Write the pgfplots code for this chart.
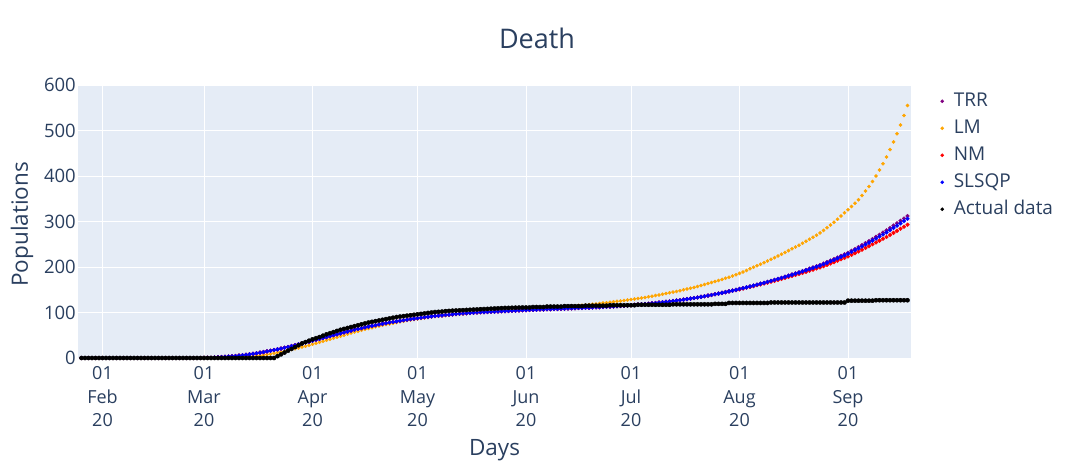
\documentclass[border=0pt]{standalone}
\usepackage{fontspec}
\setmainfont{Open Sans}
\usepackage{pgfplots}
\usepackage{pgfplotstable}
\pgfplotsset{compat=1.18}
\definecolor{plotbg}{HTML}{E5ECF6}
\definecolor{txt}{HTML}{2A3F5F}
\definecolor{ctrr}{HTML}{800080}
\definecolor{clm}{HTML}{FFA500}
\definecolor{cnm}{HTML}{FF0000}
\definecolor{cs}{HTML}{0000FF}

\pgfplotstableread{
d t l n s a
-6 0 0 0 0 0
-5 0 0 0 0 0
-4 0 0 0 0 0
-3 0 0 0 0 0
-2 0 0 0 0 0
-1 0 0 0 0 0
0 0 0 0 0 0
1 0 0 0 0 0
2 0 0 0 0 0
3 0 0 0 0 0
4 0 0 0 0 0
5 0 0 0 0 0
6 0 0 0 0 0
7 0 0 0 0 0
8 0 0 0 0 0
9 0 0 0 0 0
10 0 0 0 0 0
11 0 0 0 0 0
12 0 0 0 0 0
13 0 0 0 0 0
14 0 0 0 0 0
15 0 0 0 0 0
16 0 0 0 0 0
17 0 0 0 0 0
18 0 0 0 0 0
19 0 0 0 0 0
20 0 0 0 0 0
21 0 0 0 0 0
22 0 0 0 0 0
23 0 0 0 0 0
24 0 0 0 0 0
25 0 0 0 0 0
26 0 0 0 0 0
27 0 0 0 0 0
28 0 0 0 0 0
29 0.2 0 0.2 0.2 0
30 0.5 0 0.5 0.5 0
31 0.7 0 0.7 0.7 0
32 1 0 1 1 0
33 1.5 0 1.5 1.5 0
34 2 0.2 2 2 0
35 2.5 0.3 2.5 2.5 0
36 3 0.5 3 3 0
37 3.7 0.7 3.7 3.7 0
38 4.5 1 4.5 4.5 0
39 5.2 1.5 5.2 5.2 0
40 6 2 6 6 0
41 7 2.5 7 7 0
42 8 3 8 8 0
43 9.2 3.7 9.2 9.2 0
44 10.5 4.5 10.5 10.5 0
45 11.7 5.5 11.7 11.7 0
46 13 6.5 13 13 0
47 14.5 7.7 14.5 14.5 0
48 16 9 16 16 0
49 17.5 10.5 17.5 17.5 0
50 19 12 19 19 4
51 20.7 13.5 20.7 20.7 8
52 22.5 15 22.5 22.5 12
53 24.2 16.7 24.2 24.2 16
54 26 18.5 26 26 20
55 28 20.2 28 28 24
56 30 22 30 30 28
57 32 24 32 32 32
58 34 26 34 34 35
59 36 28 36 36 38
60 38 30 38 38 41
61 40 32.2 40 40 43.5
62 42 34.5 42 42 46
63 44 36.7 44 44 49
64 46 39 46 46 52
65 48 41.2 48 48 54.5
66 50 43.5 50 50 57
67 52 45.7 52 52 59.5
68 54 48 54 54 62
69 56 50.2 56 56 64
70 58 52.5 58 58 66
71 60 54.7 60 60 68
72 62 57 62 62 70
73 63.7 59 63.7 63.7 72
74 65.5 61 65.5 65.5 74
75 67.2 63 67.2 67.2 76
76 69 65 69 69 78
77 70.5 66.7 70.5 70.5 79.5
78 72 68.5 72 72 81
79 73.5 70.2 73.5 73.5 82.5
80 75 72 75 75 84
81 76.5 73.5 76.5 76.5 85.5
82 78 75 78 78 87
83 79.2 76.5 79.2 79.2 88.5
84 80.5 78 80.5 80.5 90
85 81.7 79.5 81.7 81.7 91
86 83 81 83 83 92
87 84.2 82.2 84.2 84.2 93
88 85.5 83.5 85.5 85.5 94
89 86.5 84.7 86.5 86.5 95
90 87.5 86 87.5 87.5 96
91 88.5 87 88.5 88.5 97
92 89.5 88 89.5 89.5 98
93 90.5 89 90.5 90.5 99
94 91.5 90 91.5 91.5 100
95 92.2 91 92.2 92.2 101
96 93 92 93 93 101.5
97 93.7 92.7 93.7 93.7 102
98 94.5 93.5 94.5 94.5 103
99 95.2 94.2 95.2 95.2 103.5
100 96 95 96 96 104
101 96.6 95.7 96.6 96.6 104.4
102 97.2 96.5 97.2 97.2 104.8
103 97.9 97.2 97.9 97.9 105.2
104 98.5 98 98.5 98.5 105.6
105 99 98.6 99 99 106
106 99.5 99.2 99.5 99.5 106.4
107 100 99.9 100 100 106.8
108 100.5 100.5 100.5 100.5 107.2
109 100.9 101 100.9 100.9 107.6
110 101.2 101.5 101.2 101.2 108
111 101.6 102 101.6 101.6 108.4
112 102 102.5 102 102 108.8
113 102.4 103 102.4 102.4 109.2
114 102.7 103.5 102.7 102.7 109.6
115 103.1 104 103.1 103.1 110
116 103.5 104.5 103.5 103.5 110.2
117 103.9 105 103.9 103.9 110.4
118 104.2 105.5 104.2 104.2 110.6
119 104.6 106 104.6 104.6 110.8
120 105 106.5 105 105 111
121 105.3 107 105.3 105.3 111
122 105.6 107.5 105.6 105.6 111
123 105.9 108 105.9 105.9 112
124 106.2 108.5 106.2 106.2 112
125 106.5 109 106.5 106.5 112
126 106.8 109.5 106.8 106.8 112
127 107.1 110 107.1 107.1 113
128 107.4 110.5 107.4 107.4 113
129 107.7 111 107.7 107.7 113
130 108 111.5 108 108 113
131 108.3 112.1 108.3 108.3 113
132 108.6 112.7 108.6 108.6 114
133 108.9 113.3 108.9 108.9 114
134 109.2 113.9 109.2 109.2 114
135 109.5 114.5 109.5 109.5 114
136 109.8 115.2 109.8 109.8 114
137 110.1 115.9 110.1 110.1 114
138 110.4 116.6 110.4 110.4 115
139 110.7 117.3 110.7 110.7 115
140 111 118 111 111 115
141 111.4 118.9 111.4 111.4 115
142 111.8 119.8 111.8 111.8 115
143 112.2 120.7 112.2 112.2 115
144 112.6 121.6 112.6 112.6 115
145 113 122.5 113 113 116
146 113.5 123.5 113.5 113.5 116
147 114 124.5 114 114 116
148 114.5 125.5 114.5 114.5 116
149 115 126.5 115 115 116
150 115.5 127.5 115.5 115.5 116
151 116.1 128.6 116.1 116.1 116
152 116.7 129.7 116.7 116.7 116
153 117.3 130.8 117.3 117.3 117
154 117.9 131.9 117.9 117.9 117
155 118.5 133 118.5 118.5 117
156 119.3 134.4 119.3 119.3 117
157 120.1 135.8 120.1 120.1 117
158 120.9 137.2 120.9 120.9 117
159 121.7 138.6 121.7 121.7 117
160 122.5 140 122.5 122.5 117
161 123.4 141.6 123.4 123.4 117
162 124.3 143.2 124.3 124.3 117
163 125.2 144.8 125.2 125.2 118
164 126.1 146.4 126.1 126.1 118
165 127 148 127 127 118
166 128.2 149.8 128.2 128.2 118
167 129.4 151.6 129.4 129.4 118
168 130.6 153.4 130.6 130.6 118
169 131.8 155.2 131.8 131.8 118
170 133 157 133 133 118
171 134.4 159.2 134.4 134.4 118
172 135.8 161.4 135.8 135.8 118
173 137.2 163.6 137.2 137.2 118
174 138.6 165.8 138.6 138.6 118
175 140 168 140 140 119
176 141.6 170.4 141.6 141.6 119
177 143.2 172.8 143.2 143.2 119
178 144.8 175.2 144.8 144.8 119
179 146.4 177.6 146.4 146.4 121
180 148 180 148 148 121
181 150.1 183 149.2 149.8 121
182 151.9 186 150.9 151.6 121
183 153.7 189.2 152.6 153.4 121
184 155.6 192.5 154.3 155.2 121
185 157.4 196 156 157 121
186 159.4 199.4 157.9 159 121
187 161.4 202.8 159.8 161 121
188 163.5 206.2 161.7 163 121
189 165.5 209.6 163.6 165 121
190 167.5 213 165.5 167 121
191 169.8 216.8 167.6 169.2 122
192 172 220.6 169.6 171.4 122
193 174.3 224.4 171.7 173.6 122
194 176.5 228.2 173.7 175.8 122
195 178.8 232 175.8 178 122
196 181.2 236 178 180.4 122
197 183.7 240 180.3 182.8 122
198 186.1 244 182.5 185.2 122
199 188.6 248 184.8 187.6 122
200 191 252 187 190 122
201 193.7 256.5 189.4 192.6 122
202 196.4 261 191.8 195.2 122
203 199.1 265.5 194.2 197.8 122
204 201.8 270 196.6 200.4 122
205 204.5 275 199 203 122
206 207.6 280.5 201.8 206 122
207 210.7 286.5 204.6 209 122
208 214.3 292.5 207.9 212.5 122
209 217.4 298.5 210.7 215.5 122
210 221 305 214 219 122
211 224.4 312 217 222.3 122
212 227.9 319 220 225.6 122
213 231.4 326 223.1 229 126
214 235.6 333 226.8 233 126
215 239.7 340 230.5 237 126
216 243.9 348 234.2 241 126
217 248 357 237.9 245 126
218 252.7 367 242.1 249.5 126
219 256.8 377 245.8 253.5 126
220 261.5 388 250 258 126
221 266.2 400 254 262.5 127
222 271 413 258 267 127
223 275.7 427 262 271.5 127
224 280.4 442 266 276 127
225 285.7 458 270.5 281 127
226 291 475 275 286 127
227 296.2 493 279.5 291 127
228 301.5 512 284 296 127
229 306.7 533 288.5 301 127
230 312 555 293 306 127
}\data

\begin{document}
\begin{tikzpicture}
\useasboundingbox (0,0) rectangle (1073pt,464pt);
\begin{axis}[
  at={(78pt,106pt)}, anchor=south west,
  width=833pt, height=273pt, scale only axis,
  xmin=-7, xmax=231, ymin=0, ymax=600,
  axis background/.style={fill=plotbg},
  axis line style={draw=none},
  major tick length=0pt,
  grid=major, major grid style={white, line width=1pt},
  xtick={0,29,60,90,121,151,182,213},
  xticklabels={{01\\Feb\\20},{01\\Mar\\20},{01\\Apr\\20},{01\\May\\20},{01\\Jun\\20},{01\\Jul\\20},{01\\Aug\\20},{01\\Sep\\20}},
  xticklabel style={align=center, font=\fontsize{18}{23.5}\selectfont, text=txt, inner sep=0pt, anchor=north, yshift=-8.5pt},
  ytick={0,100,200,300,400,500,600},
  yticklabel style={font=\fontsize{18.5}{20}\selectfont, text=txt, inner xsep=2pt},
  /pgf/number format/assume math mode=true,
  xlabel={Days}, ylabel={Populations},
  xlabel style={at={(axis description cs:0.5,-0.337)}, anchor=center, font=\fontsize{22.5}{26}\selectfont, text=txt},
  ylabel style={at={(axis description cs:-0.0672,0.49)}, anchor=center, font=\fontsize{22.5}{26}\selectfont, text=txt},
  clip=false,
  legend style={at={(1.0353,0.974)}, anchor=north west, draw=none, fill=none,
    font=\fontsize{19}{22}\selectfont, text=txt, row sep=9pt, column sep=8pt, inner sep=0pt,
    nodes={inner xsep=2pt, inner ysep=0pt, text height=14pt, text depth=4pt}},
  legend cell align=left,
  legend image code/.code={\draw[#1, mark size=1.6pt] plot coordinates {(0pt,0pt)};},
]
\addplot[only marks, mark=*, mark size=1.9pt, color=ctrr] table[x=d,y=t]{\data};
\addlegendentry{TRR}
\addplot[only marks, mark=*, mark size=1.6pt, color=clm] table[x=d,y=l]{\data};
\addlegendentry{LM}
\addplot[only marks, mark=*, mark size=1.9pt, color=cnm] table[x=d,y=n]{\data};
\addlegendentry{NM}
\addplot[only marks, mark=*, mark size=1.9pt, color=cs] table[x=d,y=s]{\data};
\addlegendentry{SLSQP}
\addplot[only marks, mark=*, mark size=2.1pt, color=black] table[x=d,y=a]{\data};
\addlegendentry{Actual data}
\end{axis}
\node[font=\fontsize{27}{30}\selectfont, text=txt] at (537pt,426pt) {Death};
\end{tikzpicture}
\end{document}
